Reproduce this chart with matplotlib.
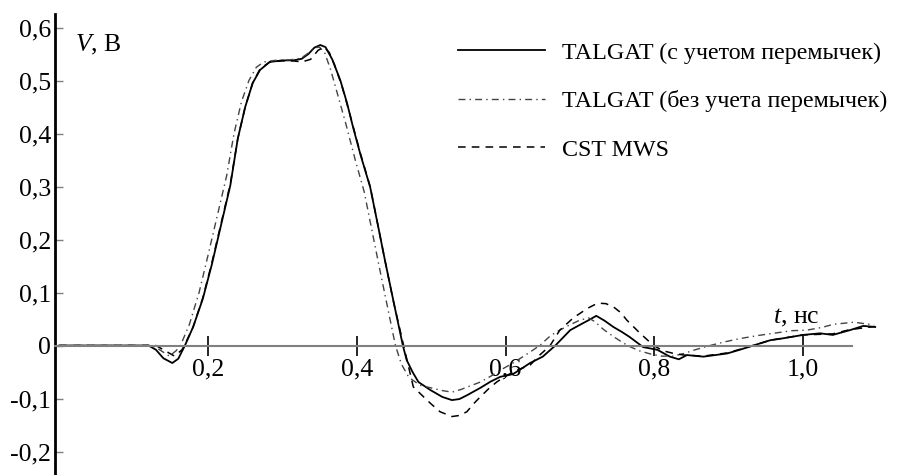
import matplotlib
matplotlib.use("Agg")
import matplotlib.pyplot as plt
from matplotlib import font_manager

names = sorted({f.name for f in font_manager.fontManager.ttflist})
serif_name = 'Liberation Serif' if 'Liberation Serif' in names else 'DejaVu Serif'

plt.rcParams['font.family'] = 'serif'
plt.rcParams['font.serif'] = [serif_name, 'DejaVu Serif']
plt.rcParams['mathtext.fontset'] = 'custom'
plt.rcParams['mathtext.rm'] = serif_name
plt.rcParams['mathtext.it'] = serif_name + ':italic'

# ---- data (t in ns, V in volts) ----
t_with = [0, 0.12, 0.13, 0.14, 0.152, 0.16, 0.169, 0.18, 0.193, 0.205, 0.215, 0.23, 0.24, 0.25,
          0.26, 0.27, 0.283, 0.30, 0.315, 0.326, 0.335, 0.343, 0.351, 0.358, 0.367, 0.378, 0.387,
          0.395, 0.405, 0.418, 0.428, 0.438, 0.449, 0.462, 0.467, 0.475, 0.483, 0.499, 0.515,
          0.528, 0.538, 0.548, 0.566, 0.58, 0.593, 0.61, 0.62, 0.633, 0.65, 0.667, 0.687, 0.70,
          0.712, 0.722, 0.733, 0.745, 0.756, 0.767, 0.785, 0.804, 0.821, 0.833, 0.844, 0.866,
          0.898, 0.915, 0.933, 0.956, 0.975, 1.0, 1.023, 1.04, 1.063, 1.081, 1.097]
v_with = [0, 0, -0.008, -0.024, -0.033, -0.025, 0, 0.035, 0.088, 0.152, 0.212, 0.302, 0.39, 0.45,
          0.495, 0.52, 0.535, 0.538, 0.538, 0.541, 0.550, 0.562, 0.567, 0.563, 0.540, 0.50, 0.457,
          0.412, 0.36, 0.299, 0.23, 0.16, 0.086, 0, -0.027, -0.05, -0.069, -0.084, -0.097,
          -0.103, -0.101, -0.094, -0.080, -0.068, -0.059, -0.054, -0.045, -0.033, -0.021, 0,
          0.029, 0.039, 0.048, 0.056, 0.047, 0.035, 0.026, 0.016, -0.003, -0.008, -0.021,
          -0.026, -0.018, -0.021, -0.015, -0.008, 0, 0.010, 0.014, 0.020, 0.023, 0.020, 0.029,
          0.037, 0.035]

t_without = [0, 0.125, 0.135, 0.148, 0.157, 0.163, 0.175, 0.188, 0.2, 0.21, 0.225, 0.235, 0.245,
             0.255, 0.265, 0.275, 0.29, 0.31, 0.325, 0.335, 0.343, 0.35, 0.357, 0.365, 0.375,
             0.385, 0.398, 0.41, 0.42, 0.43, 0.441, 0.452, 0.46, 0.47, 0.485, 0.50, 0.515, 0.528,
             0.54, 0.553, 0.566, 0.58, 0.595, 0.61, 0.628, 0.646, 0.66, 0.669, 0.685, 0.70, 0.712,
             0.72, 0.732, 0.745, 0.757, 0.767, 0.78, 0.795, 0.81, 0.825, 0.84, 0.855, 0.875,
             0.895, 0.915, 0.94, 0.96, 0.985, 1.005, 1.025, 1.041, 1.068, 1.095]
v_without = [0, 0, -0.008, -0.02, -0.01, 0, 0.04, 0.1, 0.17, 0.23, 0.32, 0.40, 0.46,
             0.50, 0.525, 0.535, 0.538, 0.539, 0.542, 0.552, 0.562, 0.563, 0.552, 0.52, 0.47,
             0.42, 0.35, 0.29, 0.22, 0.15, 0.075, 0, -0.035, -0.06, -0.075, -0.08, -0.085,
             -0.088, -0.083, -0.076, -0.069, -0.058, -0.045, -0.033, -0.017, 0, 0.018, 0.026,
             0.038, 0.048, 0.052, 0.045, 0.03, 0.017, 0.006, -0.002, -0.01, -0.016, -0.02, -0.02,
             -0.015, -0.008, 0, 0.007, 0.013, 0.019, 0.023, 0.028, 0.029, 0.034, 0.04, 0.044,
             0.039]

t_cst = [0, 0.13, 0.14, 0.155, 0.165, 0.17, 0.18, 0.193, 0.205, 0.215, 0.23, 0.24, 0.25, 0.26,
         0.27, 0.283, 0.30, 0.315, 0.326, 0.338, 0.348, 0.356, 0.363, 0.37, 0.38, 0.39, 0.405,
         0.418, 0.428, 0.438, 0.449, 0.463, 0.476, 0.49, 0.499, 0.512, 0.528, 0.538, 0.548,
         0.557, 0.566, 0.577, 0.588, 0.60, 0.61, 0.62, 0.633, 0.646, 0.66, 0.673, 0.691, 0.71,
         0.724, 0.735, 0.745, 0.755, 0.763, 0.781, 0.799, 0.812, 0.826, 0.84, 0.866, 0.898,
         0.933, 0.956, 1.0, 1.04, 1.063, 1.097]
v_cst = [0, 0, -0.008, -0.02, -0.008, 0.005, 0.035, 0.09, 0.155, 0.215, 0.305, 0.39, 0.45, 0.495,
         0.522, 0.535, 0.537, 0.537, 0.535, 0.54, 0.557, 0.563, 0.553, 0.53, 0.49, 0.44, 0.362,
         0.30, 0.23, 0.16, 0.085, 0, -0.078, -0.097, -0.109, -0.125, -0.134, -0.132, -0.125,
         -0.11, -0.097, -0.082, -0.069, -0.058, -0.050, -0.044, -0.037, -0.018, 0, 0.029,
         0.052, 0.07, 0.080, 0.079, 0.073, 0.062, 0.048, 0.023, 0, -0.01, -0.015, -0.018,
         -0.02, -0.014, 0.0, 0.01, 0.02, 0.022, 0.03, 0.036]

labels = ['TALGAT (с учетом перемычек)', 'TALGAT (без учета перемычек)', 'CST MWS']
xtick_vals = [0.2, 0.4, 0.6, 0.8, 1.0]
xtick_labels = ['0,2', '0,4', '0,6', '0,8', '1,0']
ytick_vals = [-0.2, -0.1, 0, 0.1, 0.2, 0.3, 0.4, 0.5, 0.6]
ytick_labels = ['-0,2', '-0,1', '0', '0,1', '0,2', '0,3', '0,4', '0,5', '0,6']

# ---- figure ----
W, H = 910, 475
fig = plt.figure(figsize=(W / 100, H / 100), dpi=100)
ax = fig.add_axes([55 / W, 0, 855 / W, 461 / H])
ax.set_xlim(-0.0057, 1.1438)
ax.set_ylim(-0.2443, 0.6255)

FS = 18.5
FS_LEG = 17.3
l1, = ax.plot(t_with, v_with, color='black', lw=1.3, ls='-')
l2, = ax.plot(t_without, v_without, color='#444444', lw=1.0, ls=(0, (5, 3, 1, 3)))
l3, = ax.plot(t_cst, v_cst, color='black', lw=1.1, ls=(0, (5, 4)))

for s in ['top', 'right']:
    ax.spines[s].set_visible(False)
ax.spines['left'].set_color('black')
ax.spines['left'].set_linewidth(2)
ax.spines['bottom'].set_position(('data', 0))
ax.spines['bottom'].set_color('#808080')
ax.spines['bottom'].set_linewidth(1.5)
ax.spines['bottom'].set_bounds(-0.0057, 1.066)

ax.set_xticks(xtick_vals)
ax.set_xticklabels(xtick_labels)
ax.set_yticks(ytick_vals)
ax.set_yticklabels(ytick_labels)
ax.tick_params(axis='x', direction='inout', length=15, width=1.2, color='black',
               labelsize=FS, pad=1.5)
ax.tick_params(axis='y', direction='in', length=6, width=1, color='#808080',
               labelsize=FS, pad=3)

ax.text(0.021, 0.567, r'$V$, В', fontsize=FS, ha='left', va='center')
ax.text(0.960, 0.052, r'$t$, нс', fontsize=FS, ha='left', va='center')

ax.legend([l1, l2, l3], labels, loc='upper left',
          bbox_to_anchor=(458 / W, 1 - 42 / H), bbox_transform=fig.transFigure,
          frameon=False, fontsize=FS_LEG, handlelength=3.6, handletextpad=0.74,
          labelspacing=1.1, borderpad=0, borderaxespad=0)

fig.savefig('out.png', dpi=100)
